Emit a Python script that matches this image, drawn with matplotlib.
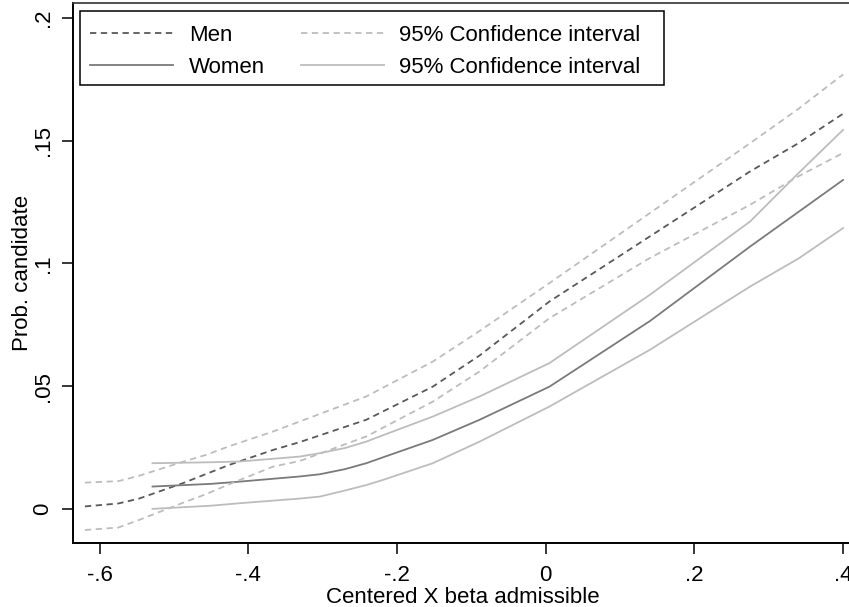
import matplotlib.pyplot as plt
from matplotlib.patches import Rectangle
from matplotlib.ticker import FixedLocator

plt.rcParams["font.family"] = ["Liberation Sans", "DejaVu Sans"]

# values
men_x = [-0.62, -0.575, -0.547, -0.488, -0.457, -0.426, -0.367, -0.331, -0.2415, -0.152, -0.089, 0.005, 0.14, 0.275, 0.34, 0.4]
men_prob = [0.001, 0.0022, 0.0042, 0.0105, 0.0142, 0.0179, 0.024, 0.0272, 0.0363, 0.0498, 0.0625, 0.0845, 0.111, 0.1375, 0.149, 0.161]
men_hi = [0.0107, 0.0113, 0.0135, 0.0192, 0.022, 0.0255, 0.0315, 0.0356, 0.0458, 0.060, 0.0725, 0.092, 0.1205, 0.149, 0.163, 0.177]
men_lo = [-0.0086, -0.0076, -0.0045, 0.0025, 0.006, 0.010, 0.0172, 0.0195, 0.0295, 0.0437, 0.056, 0.0777, 0.1022, 0.1239, 0.1355, 0.145]

women_x = [-0.529, -0.45, -0.412, -0.331, -0.304, -0.27, -0.2415, -0.219, -0.152, -0.089, 0.005, 0.14, 0.275, 0.34, 0.4]
women_prob = [0.0091, 0.0102, 0.0111, 0.0132, 0.0141, 0.0162, 0.0186, 0.021, 0.0281, 0.0363, 0.0498, 0.0765, 0.1069, 0.121, 0.134]
women_hi = [0.0186, 0.019, 0.0193, 0.0213, 0.0227, 0.0248, 0.0274, 0.030, 0.0376, 0.0458, 0.0594, 0.0872, 0.1171, 0.1368, 0.1544]
women_lo = [0.0, 0.0013, 0.0023, 0.0042, 0.005, 0.0075, 0.0097, 0.0118, 0.0186, 0.0274, 0.0417, 0.0648, 0.0906, 0.102, 0.1144]

x_ticks = [-0.6, -0.4, -0.2, 0.0, 0.2, 0.4]
x_labels = ["-.6", "-.4", "-.2", "0", ".2", ".4"]
y_ticks = [0.0, 0.05, 0.1, 0.15, 0.2]
y_labels = ["0", ".05", ".1", ".15", ".2"]

W, H = 849, 607
fig = plt.figure(figsize=(W / 100, H / 100), dpi=100)
ax = fig.add_axes([73 / W, 1 - 543 / H, (852 - 73) / W, (543 - 3) / H])

dark_dash = "#595959"
light = "#bdbdbd"
women_col = "#7a7a7a"
lw = 1.3

ax.plot(men_x, men_prob, color=dark_dash, lw=lw, dashes=(3.5, 2.5), label="Men")
ax.plot(women_x, women_prob, color=women_col, lw=lw, label="Women")
ax.plot(men_x, men_hi, color=light, lw=lw, dashes=(3.5, 2.5), label="95% Confidence interval")
ax.plot(men_x, men_lo, color=light, lw=lw, dashes=(3.5, 2.5))
ax.plot(women_x, women_hi, color=light, lw=lw, label="95% Confidence interval")
ax.plot(women_x, women_lo, color=light, lw=lw)

ax.set_xlim(-0.636, 0.412)
ax.set_ylim(-0.0139, 0.2061)
ax.xaxis.set_major_locator(FixedLocator(x_ticks))
ax.set_xticklabels(x_labels)
ax.yaxis.set_major_locator(FixedLocator(y_ticks))
ax.set_yticklabels(y_labels, rotation=90, va="center")
ax.tick_params(axis="both", labelsize=16, width=1.1, length=8, direction="out")
ax.tick_params(axis="x", pad=7.5)
ax.tick_params(axis="y", pad=6)

for side in ["left", "bottom"]:
    ax.spines[side].set_linewidth(1.4)
    ax.spines[side].set_color("black")
ax.spines["top"].set_linewidth(1.2)
ax.spines["top"].set_color("#333333")
ax.spines["right"].set_visible(False)

ax.set_xlabel("Centered X beta admissible", fontsize=16, labelpad=1.2)
ax.set_ylabel("Prob. candidate", fontsize=16, labelpad=-0.5)

leg = ax.legend(
    ncol=2,
    loc="upper left",
    bbox_to_anchor=(80 / W, 1 - 15 / H),
    bbox_transform=fig.transFigure,
    borderaxespad=0,
    fontsize=16,
    frameon=False,
    handlelength=3.75,
    handletextpad=0.7,
    columnspacing=1.6,
    labelspacing=0.5,
    borderpad=0.45,
)
# Stata-style legend box with wider right padding
fig.patches.append(Rectangle((80 / W, 1 - 85 / H), (664 - 80) / W, (85 - 11) / H,
                             transform=fig.transFigure, fill=False,
                             edgecolor="black", linewidth=1.1, zorder=5))

fig.savefig("out.png", dpi=100)
